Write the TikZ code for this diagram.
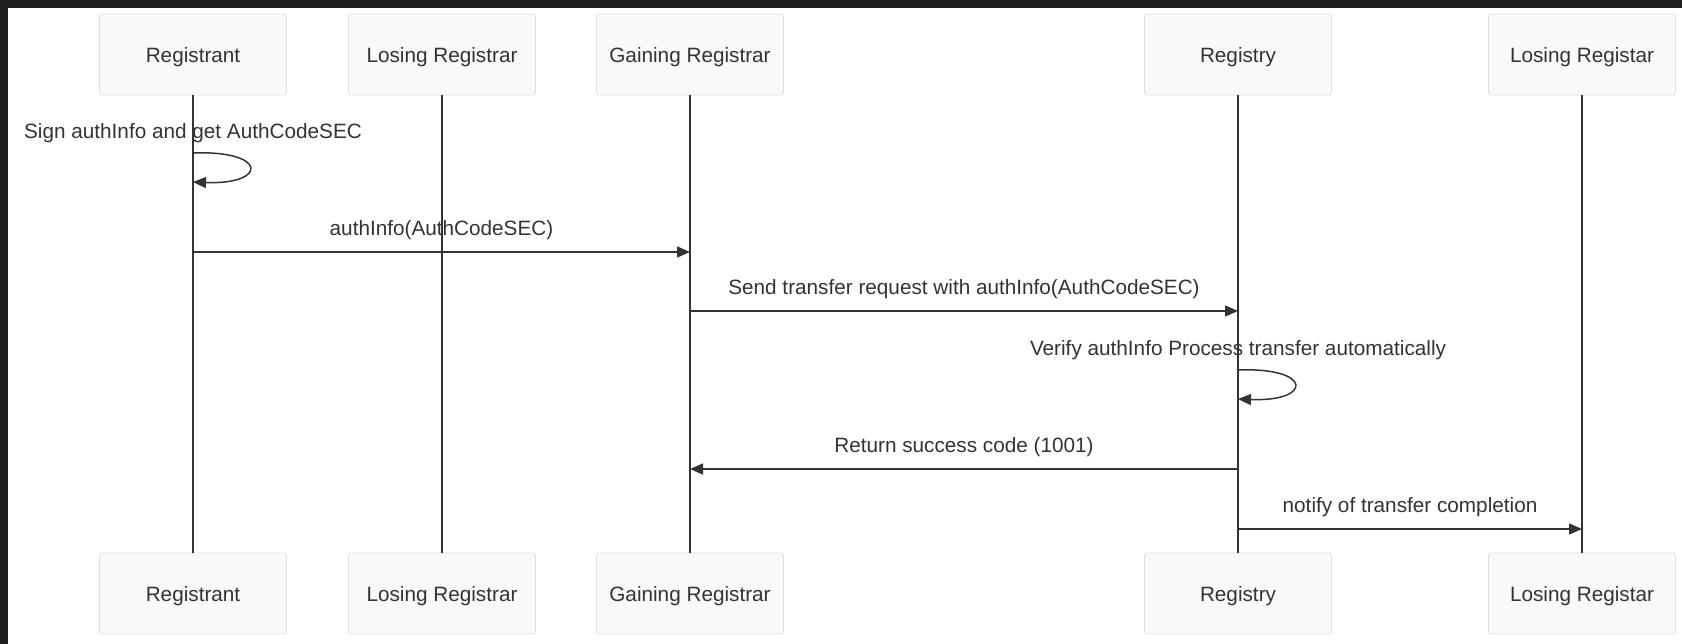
\documentclass[tikz,border=0pt]{standalone}
\usepackage{fontspec}
\setmainfont{Liberation Sans}
\usetikzlibrary{arrows.meta}
\definecolor{boxfill}{HTML}{F9F9F9}
\definecolor{boxline}{HTML}{DEDEDE}
\definecolor{ink}{HTML}{333333}
\definecolor{darkframe}{HTML}{1E1E1E}
\tikzset{
	actor/.style = {draw = boxline, fill = boxfill, rounded corners = 1.5pt,
		minimum width = 3.74cm, minimum height = 1.62cm, inner sep = 0pt, text depth = 0pt,
		text = ink, font = \fontsize{11.8}{14}\selectfont},
	life/.style = {ink, line width = 1.1pt},
	msg/.style = {ink, line width = 0.85pt, -{Triangle[length = 0.26cm, width = 0.22cm]}},
	lbl/.style = {text = ink, inner sep = 0pt, anchor = base, font = \fontsize{11.8}{14}\selectfont}
}
\begin{document}
\begin{tikzpicture}[x = 0.02cm, y = -0.02cm]
		\useasboundingbox (0,0) rectangle (1682,644);
		\fill[white] (0,0) rectangle (1682,644);
		\fill[darkframe] (0,0) rectangle (1682,8);
		\fill[darkframe] (0,0) rectangle (8,644);
		% participants with their lifelines
		\foreach \x/\name/\txt in {193/rant/Registrant, 442/lose/Losing Registrar,
			690/gain/Gaining Registrar, 1238/reg/Registry, 1582/loset/Losing Registar} {
			\node[actor] (\name-top) at (\x,54.5) {\txt};
			\node[actor] (\name-bot) at (\x,593.5) {\txt};
			\draw[life] (\name-top) -- (\name-bot);
		}
		% self calls
		\coordinate (sign-a) at (193,153);
		\coordinate (sign-b) at (193,182);
		\node[lbl] (sign) at (193,138.5) {Sign authInfo and get AuthCodeSEC};
		\draw[msg] (sign-a) .. controls +(75,-3) and +(75,3) .. (sign-b);
		\coordinate (verify-a) at (1238,370);
		\coordinate (verify-b) at (1238,399);
		\node[lbl] (verify) at (1238,355.5) {Verify authInfo Process transfer automatically};
		\draw[msg] (verify-a) .. controls +(75,-3) and +(75,3) .. (verify-b);
		% messages
		\coordinate (auth-a) at (193,252);
		\coordinate (auth-b) at (690,252);
		\draw[msg] (auth-a) -- node[lbl, midway, yshift = 0.33cm] {authInfo(AuthCodeSEC)} (auth-b);
		\coordinate (send-a) at (690,311);
		\coordinate (send-b) at (1238,311);
		\draw[msg] (send-a) -- node[lbl, midway, yshift = 0.33cm] {Send transfer request with authInfo(AuthCodeSEC)} (send-b);
		\coordinate (ret-a) at (1238,469);
		\coordinate (ret-b) at (690,469);
		\draw[msg] (ret-a) -- node[lbl, midway, yshift = 0.33cm] {Return success code (1001)} (ret-b);
		\coordinate (notify-a) at (1238,529);
		\coordinate (notify-b) at (1582,529);
		\draw[msg] (notify-a) -- node[lbl, midway, yshift = 0.33cm] {notify of transfer completion} (notify-b);
	\end{tikzpicture}
\end{document}
